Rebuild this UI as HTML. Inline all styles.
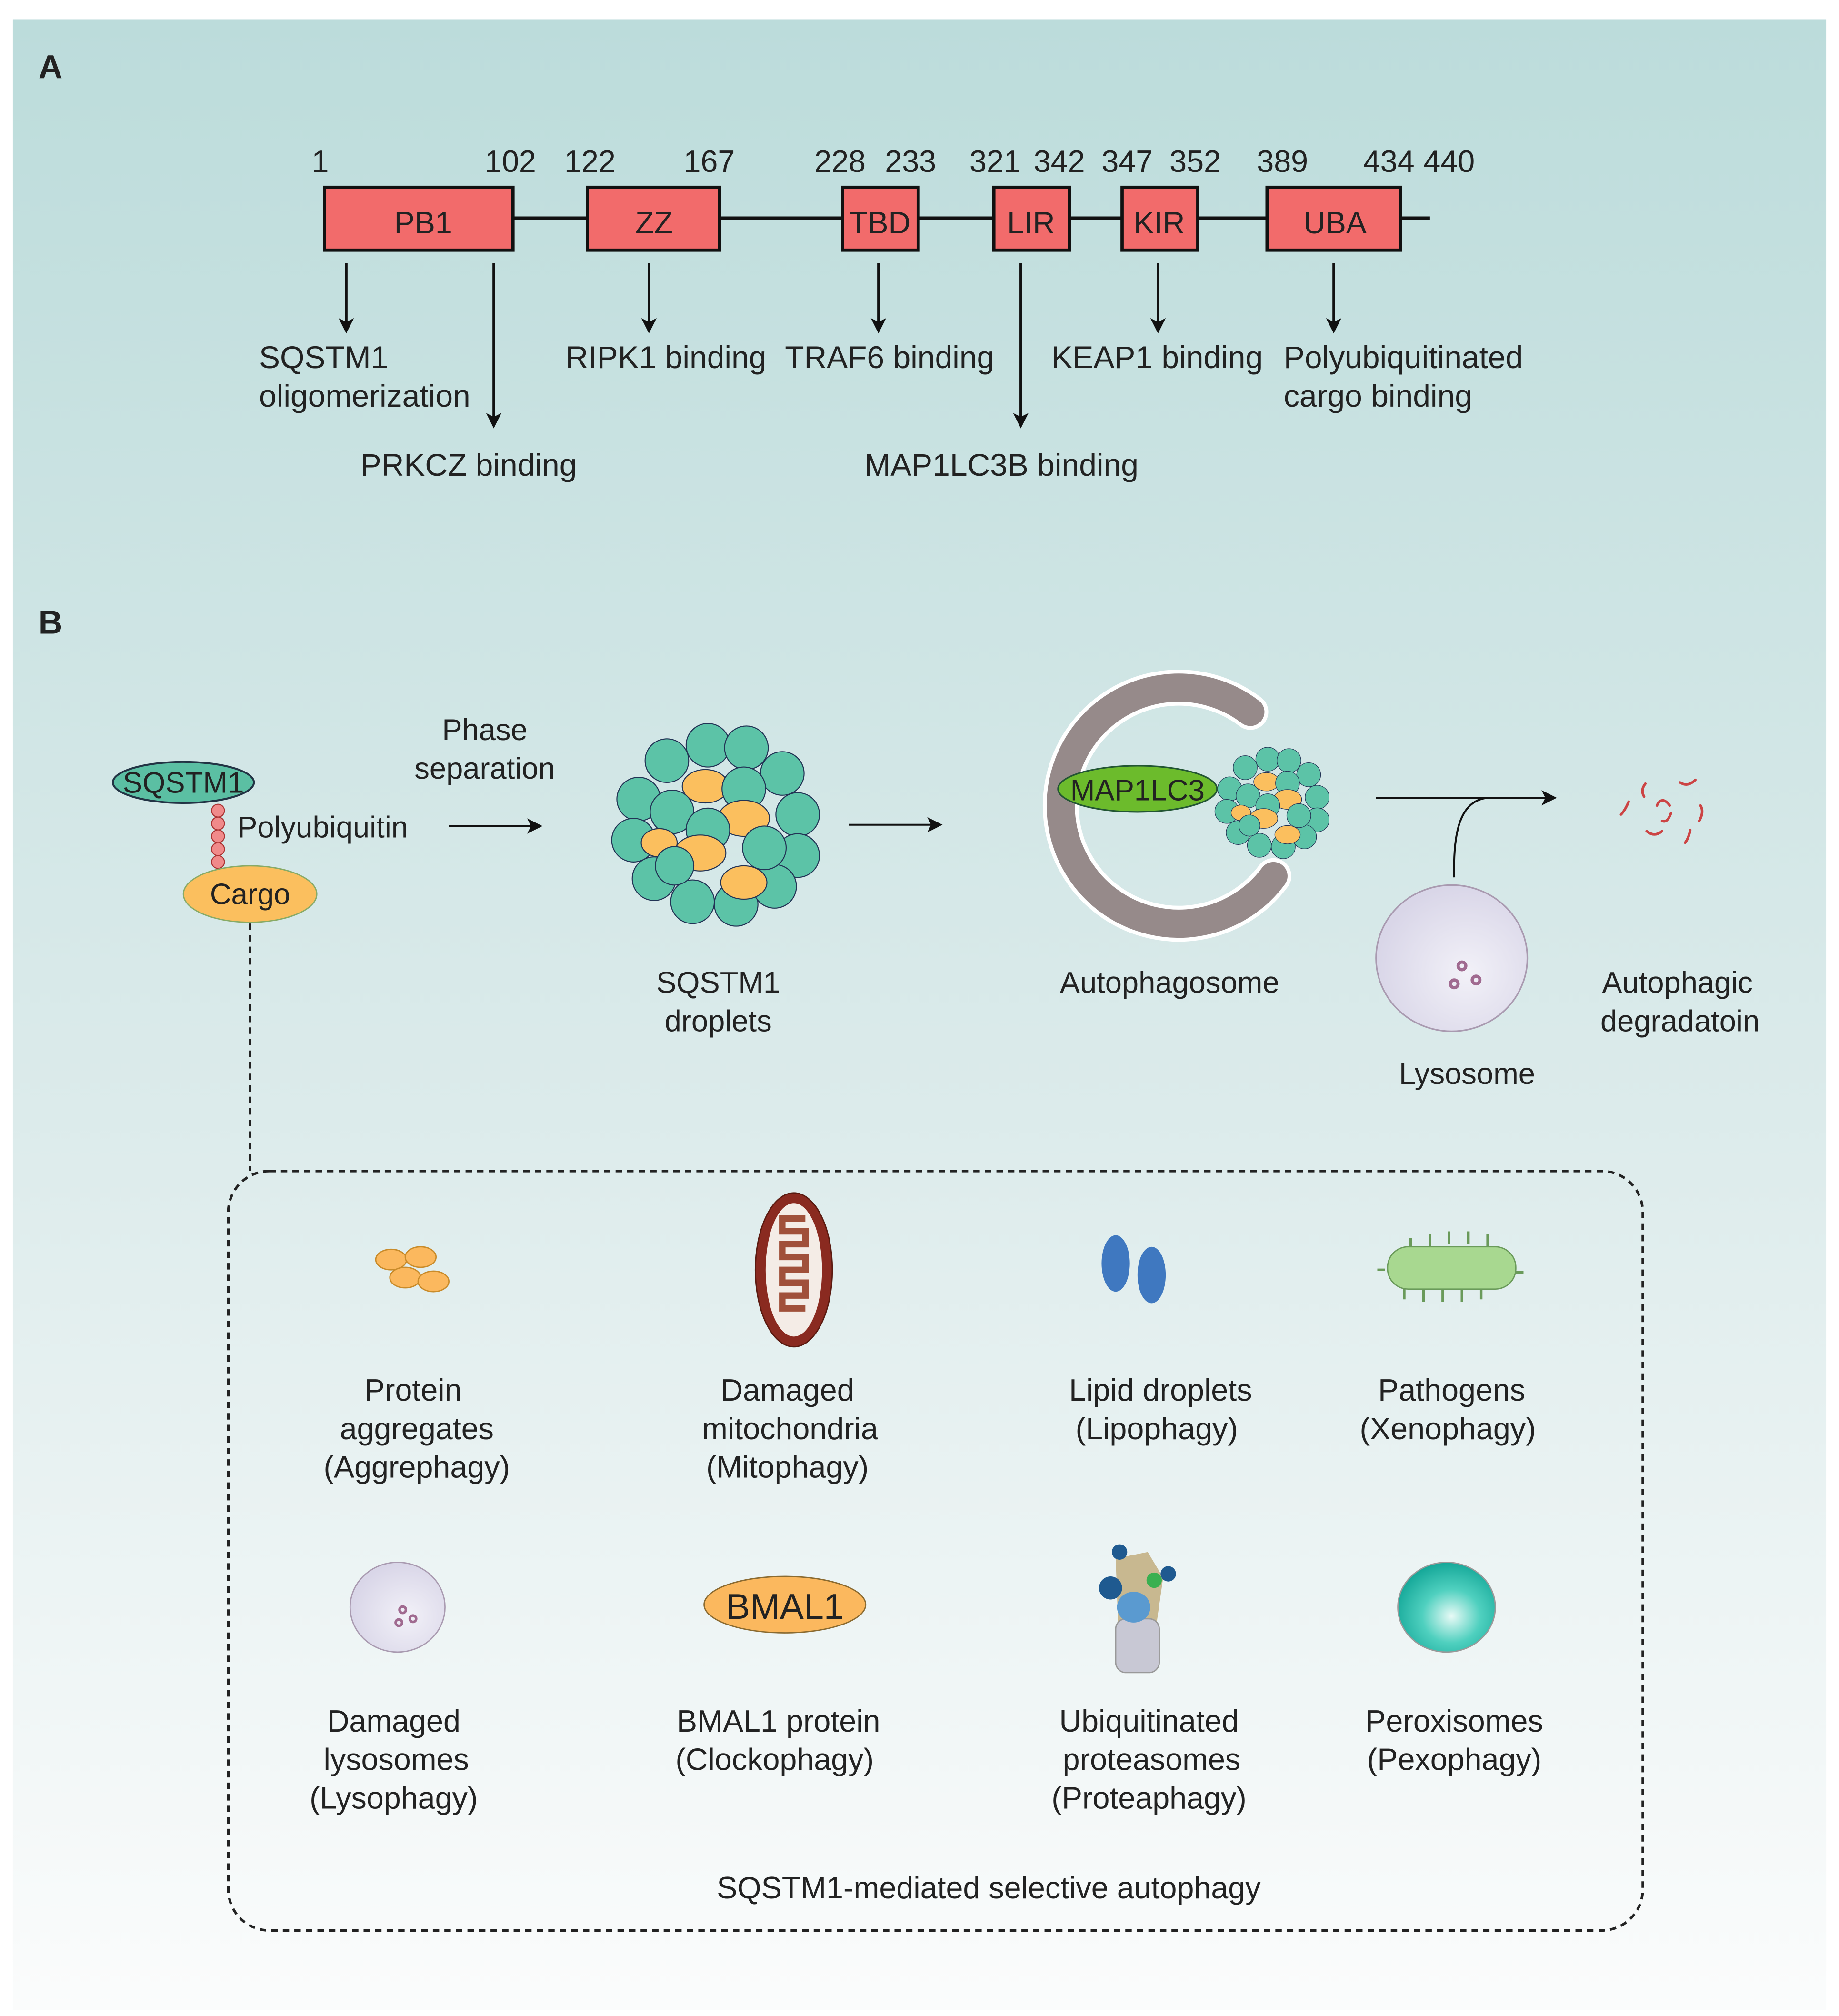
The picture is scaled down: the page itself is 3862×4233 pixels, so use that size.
<!DOCTYPE html>
<html><head><meta charset="utf-8"><style>
html,body{margin:0;padding:0;background:#fff}
svg{display:block}
text{font-family:"Liberation Sans",sans-serif;fill:#222}
</style></head><body>
<svg width="3862" height="4233" viewBox="0 0 1434 1571.7" xmlns="http://www.w3.org/2000/svg">
<defs>
<linearGradient id="bg" x1="0" y1="0" x2="0" y2="1">
<stop offset="0" stop-color="#bcdcdb"/><stop offset="0.55" stop-color="#dcebeb"/><stop offset="1" stop-color="#fbfcfc"/>
</linearGradient>
<marker id="ar" markerWidth="12" markerHeight="12" refX="10" refY="6" orient="auto" markerUnits="userSpaceOnUse"><path d="M0,0 L12,6 L0,12 L3,6 z" fill="#111"/></marker>
<radialGradient id="lys" cx="0.6" cy="0.6" r="0.6"><stop offset="0" stop-color="#f2f1f8"/><stop offset="1" stop-color="#d9d6e8"/></radialGradient>
<radialGradient id="per" cx="0.55" cy="0.6" r="0.6"><stop offset="0" stop-color="#e8faf6"/><stop offset="0.5" stop-color="#4fd0bf"/><stop offset="1" stop-color="#15a899"/></radialGradient>
<g id="drop">
<circle cx="-40" cy="-50" r="17" fill="#5cc3a7" stroke="#235" stroke-width="0.8"/>
<circle cx="-8" cy="-62" r="17" fill="#5cc3a7" stroke="#235" stroke-width="0.8"/>
<circle cx="22" cy="-60" r="17" fill="#5cc3a7" stroke="#235" stroke-width="0.8"/>
<circle cx="50" cy="-40" r="17" fill="#5cc3a7" stroke="#235" stroke-width="0.8"/>
<circle cx="-62" cy="-20" r="17" fill="#5cc3a7" stroke="#235" stroke-width="0.8"/>
<circle cx="-66" cy="12" r="17" fill="#5cc3a7" stroke="#235" stroke-width="0.8"/>
<circle cx="62" cy="-8" r="17" fill="#5cc3a7" stroke="#235" stroke-width="0.8"/>
<circle cx="62" cy="24" r="17" fill="#5cc3a7" stroke="#235" stroke-width="0.8"/>
<circle cx="-50" cy="42" r="17" fill="#5cc3a7" stroke="#235" stroke-width="0.8"/>
<circle cx="-20" cy="60" r="17" fill="#5cc3a7" stroke="#235" stroke-width="0.8"/>
<circle cx="14" cy="62" r="17" fill="#5cc3a7" stroke="#235" stroke-width="0.8"/>
<circle cx="44" cy="48" r="17" fill="#5cc3a7" stroke="#235" stroke-width="0.8"/>
<ellipse cx="-10" cy="-30" rx="18" ry="13" fill="#fbbf5e" stroke="#235" stroke-width="0.8"/>
<circle cx="20" cy="-28" r="17" fill="#5cc3a7" stroke="#235" stroke-width="0.8"/>
<circle cx="-36" cy="-10" r="17" fill="#5cc3a7" stroke="#235" stroke-width="0.8"/>
<ellipse cx="20" cy="-5" rx="20" ry="14" fill="#fbbf5e" stroke="#235" stroke-width="0.8"/>
<circle cx="-8" cy="4" r="17" fill="#5cc3a7" stroke="#235" stroke-width="0.8"/>
<ellipse cx="-14" cy="22" rx="20" ry="14" fill="#fbbf5e" stroke="#235" stroke-width="0.8"/>
<circle cx="36" cy="18" r="17" fill="#5cc3a7" stroke="#235" stroke-width="0.8"/>
<ellipse cx="20" cy="45" rx="18" ry="13" fill="#fbbf5e" stroke="#235" stroke-width="0.8"/>
<ellipse cx="-46" cy="14" rx="14" ry="11" fill="#fbbf5e" stroke="#235" stroke-width="0.8"/>
<circle cx="-34" cy="32" r="15" fill="#5cc3a7" stroke="#235" stroke-width="0.8"/>
</g>
</defs>
<rect x="0" y="0" width="1434" height="1572" fill="#fff"/>
<rect x="10" y="15" width="1414" height="1552" fill="url(#bg)"/>

<!-- Panel A -->
<text x="30" y="61" font-size="26" font-weight="bold">A</text>
<g font-size="24">
<text x="243" y="134">1</text><text x="378" y="134">102</text><text x="440" y="134">122</text><text x="533" y="134">167</text>
<text x="635" y="134">228</text><text x="690" y="134">233</text><text x="756" y="134">321</text><text x="806" y="134">342</text>
<text x="859" y="134">347</text><text x="912" y="134">352</text><text x="980" y="134">389</text><text x="1063" y="134">434</text><text x="1110" y="134">440</text>
</g>
<line x1="400" y1="170" x2="1115" y2="170" stroke="#111" stroke-width="2.5"/>
<g fill="#f26b6b" stroke="#111" stroke-width="2.5">
<rect x="253" y="146" width="147" height="49"/><rect x="458" y="146" width="103" height="49"/>
<rect x="657" y="146" width="59" height="49"/><rect x="775" y="146" width="59" height="49"/>
<rect x="875" y="146" width="59" height="49"/><rect x="988" y="146" width="104" height="49"/>
</g>
<g font-size="24" text-anchor="middle">
<text x="330" y="182">PB1</text><text x="510" y="182">ZZ</text><text x="686" y="182">TBD</text>
<text x="804" y="182">LIR</text><text x="904" y="182">KIR</text><text x="1041" y="182">UBA</text>
</g>
<g stroke="#111" stroke-width="2" marker-end="url(#ar)">
<line x1="270" y1="205" x2="270" y2="258"/><line x1="385" y1="205" x2="385" y2="332"/>
<line x1="506" y1="205" x2="506" y2="258"/><line x1="685" y1="205" x2="685" y2="258"/>
<line x1="796" y1="205" x2="796" y2="332"/><line x1="903" y1="205" x2="903" y2="258"/>
<line x1="1040" y1="205" x2="1040" y2="258"/>
</g>
<g font-size="24.5">
<text x="202" y="287">SQSTM1</text><text x="202" y="317">oligomerization</text>
<text x="281" y="371">PRKCZ binding</text>
<text x="441" y="287">RIPK1 binding</text><text x="612" y="287">TRAF6 binding</text>
<text x="674" y="371">MAP1LC3B binding</text>
<text x="820" y="287">KEAP1 binding</text>
<text x="1001" y="287">Polyubiquitinated</text><text x="1001" y="317">cargo binding</text>
</g>

<!-- Panel B -->
<text x="30" y="494" font-size="26" font-weight="bold">B</text>
<g fill="#f08a8a" stroke="#a33" stroke-width="0.8">
<circle cx="170" cy="632" r="5"/><circle cx="170" cy="642" r="5"/><circle cx="170" cy="652" r="5"/><circle cx="170" cy="662" r="5"/><circle cx="170" cy="672" r="5"/>
</g>
<ellipse cx="143" cy="610" rx="55" ry="16" fill="#5bbfa3" stroke="#234" stroke-width="1.5"/>
<text x="143" y="618" font-size="23" text-anchor="middle">SQSTM1</text>
<ellipse cx="195" cy="697" rx="52" ry="22" fill="#fbbf5e" stroke="#8a6" stroke-width="1"/>
<text x="195" y="705" font-size="23" text-anchor="middle">Cargo</text>
<text x="185" y="653" font-size="23.5">Polyubiquitin</text>
<text x="378" y="577" font-size="23.5" text-anchor="middle">Phase</text>
<text x="378" y="607" font-size="23.5" text-anchor="middle">separation</text>
<line x1="350" y1="644" x2="421" y2="644" stroke="#111" stroke-width="1.5" marker-end="url(#ar)"/>
<use href="#drop" transform="translate(560,643)"/>
<text x="560" y="774" font-size="23.5" text-anchor="middle">SQSTM1</text>
<text x="560" y="804" font-size="23.5" text-anchor="middle">droplets</text>
<line x1="662" y1="643" x2="733" y2="643" stroke="#111" stroke-width="1.5" marker-end="url(#ar)"/>
<!-- autophagosome -->
<path d="M975,555 A92,92 0 1 0 993,683" fill="none" stroke="#fff" stroke-width="28" stroke-linecap="round"/>
<path d="M975,555 A92,92 0 1 0 993,683" fill="none" stroke="#968a8a" stroke-width="22" stroke-linecap="round"/>
<use href="#drop" transform="translate(993,626) scale(0.55)"/>
<ellipse cx="887" cy="615" rx="62" ry="18" fill="#6cbb2c" stroke="#253" stroke-width="1.2"/>
<text x="887" y="624" font-size="23" text-anchor="middle">MAP1LC3</text>
<text x="912" y="774" font-size="23.5" text-anchor="middle">Autophagosome</text>
<line x1="1073" y1="622" x2="1212" y2="622" stroke="#111" stroke-width="1.5" marker-end="url(#ar)"/>
<path d="M1134,684 C1133,650 1138,624 1160,622" fill="none" stroke="#111" stroke-width="1.5"/>
<ellipse cx="1132" cy="747" rx="59" ry="57" fill="url(#lys)" stroke="#a99ab0" stroke-width="1.2"/>
<g fill="none" stroke="#a06a90" stroke-width="2.5"><circle cx="1140" cy="753" r="3"/><circle cx="1134" cy="767" r="3"/><circle cx="1151" cy="764" r="3"/></g>
<text x="1144" y="845" font-size="23.5" text-anchor="middle">Lysosome</text>
<g fill="none" stroke="#c44" stroke-width="2" stroke-linecap="round">
<path d="M1283,611 q-4,5 -1,10"/><path d="M1310,610 q6,4 12,-2"/><path d="M1292,628 q4,-8 10,0"/><path d="M1296,640 q4,2 7,-6"/>
<path d="M1270,625 q-3,7 -6,10"/><path d="M1326,628 q3,5 -1,12"/><path d="M1284,648 q6,5 12,0"/><path d="M1318,647 q-1,6 -4,10"/>
</g>
<text x="1308" y="774" font-size="23.5" text-anchor="middle">Autophagic</text>
<text x="1310" y="804" font-size="23.5" text-anchor="middle">degradatoin</text>

<line x1="195" y1="720" x2="195" y2="913" stroke="#222" stroke-width="2" stroke-dasharray="5,4"/>
<rect x="178" y="913" width="1103" height="592" rx="32" fill="none" stroke="#222" stroke-width="2" stroke-dasharray="5,4"/>

<!-- icons row 1 -->
<g fill="#fbb85e" stroke="#c98b2a" stroke-width="1"><ellipse cx="305" cy="982" rx="12" ry="8"/><ellipse cx="328" cy="980" rx="12" ry="8"/><ellipse cx="316" cy="996" rx="12" ry="8"/><ellipse cx="338" cy="999" rx="12" ry="8"/></g>
<ellipse cx="619" cy="990" rx="30" ry="60" fill="#8a2a20" stroke="#5a1a10"/>
<ellipse cx="619" cy="990" rx="22" ry="52" fill="#f4ece6"/>
<path d="M628,950 h-18 v10 h18 v10 h-18 v10 h18 v10 h-18 v10 h18 v10 h-18 v10 h18" fill="none" stroke="#a0503a" stroke-width="5"/>
<ellipse cx="870" cy="985" rx="11" ry="22" fill="#3f78c0"/><ellipse cx="898" cy="994" rx="11" ry="22" fill="#3f78c0"/>
<g stroke="#6a9a5a" stroke-width="2" fill="none"><path d="M1100,975 v-10 M1115,972 v-10 M1130,970 v-10 M1145,970 v-10 M1160,972 v-10 M1095,1003 v10 M1110,1005 v10 M1125,1005 v10 M1140,1005 v10 M1155,1003 v10 M1080,990 h-6 M1180,992 h8"/></g>
<rect x="1082" y="972" width="100" height="33" rx="16" fill="#a8d890" stroke="#6a9a5a"/>
<g font-size="24" text-anchor="middle">
<text x="322" y="1092">Protein</text><text x="325" y="1122">aggregates</text><text x="325" y="1152">(Aggrephagy)</text>
<text x="614" y="1092">Damaged</text><text x="616" y="1122">mitochondria</text><text x="614" y="1152">(Mitophagy)</text>
<text x="905" y="1092">Lipid droplets</text><text x="902" y="1122">(Lipophagy)</text>
<text x="1132" y="1092">Pathogens</text><text x="1129" y="1122">(Xenophagy)</text>
</g>
<!-- icons row 2 -->
<ellipse cx="310" cy="1253" rx="37" ry="35" fill="url(#lys)" stroke="#a99ab0"/>
<g fill="none" stroke="#a06a90" stroke-width="2"><circle cx="314" cy="1255" r="2.5"/><circle cx="311" cy="1265" r="2.5"/><circle cx="322" cy="1262" r="2.5"/></g>
<ellipse cx="612" cy="1251" rx="63" ry="22" fill="#fbb85e" stroke="#8a6a30"/>
<text x="612" y="1262" font-size="28" text-anchor="middle">BMAL1</text>
<path d="M870,1215 l25,-5 l12,20 l-5,35 l-30,5 z" fill="#c8b890"/>
<g fill="#c8c8d4" stroke="#999"><rect x="870" y="1262" width="34" height="42" rx="8"/></g>
<ellipse cx="884" cy="1253" rx="13" ry="12" fill="#5a9ad0"/>
<circle cx="866" cy="1238" r="9" fill="#1f5a90"/><circle cx="873" cy="1210" r="6" fill="#1f5a90"/><circle cx="911" cy="1227" r="6" fill="#1f5a90"/>
<circle cx="900" cy="1232" r="6" fill="#3ab050"/>
<ellipse cx="1128" cy="1253" rx="38" ry="35" fill="url(#per)" stroke="#999"/>
<g font-size="24" text-anchor="middle">
<text x="307" y="1350">Damaged</text><text x="309" y="1380">lysosomes</text><text x="307" y="1410">(Lysophagy)</text>
<text x="607" y="1350">BMAL1 protein</text><text x="604" y="1380">(Clockophagy)</text>
<text x="896" y="1350">Ubiquitinated</text><text x="898" y="1380">proteasomes</text><text x="896" y="1410">(Proteaphagy)</text>
<text x="1134" y="1350">Peroxisomes</text><text x="1134" y="1380">(Pexophagy)</text>
<text x="771" y="1480">SQSTM1-mediated selective autophagy</text>
</g>
</svg>
</body></html>
